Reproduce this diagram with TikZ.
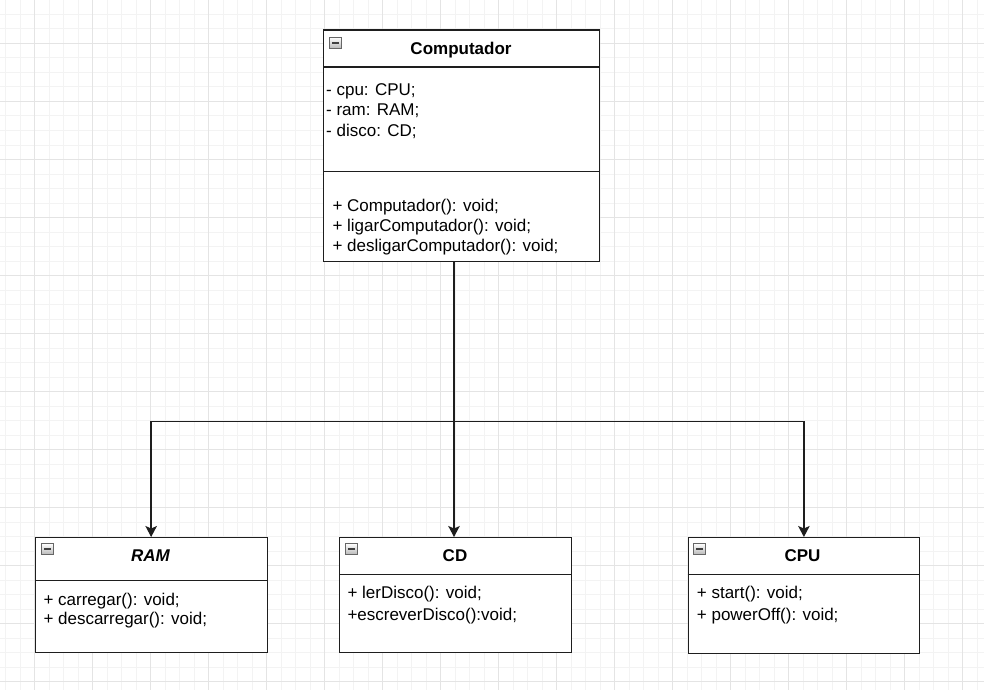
\documentclass[tikz,border=0pt]{standalone}
\usepackage{fontspec}
\setmainfont{Liberation Sans}
\usetikzlibrary{arrows.meta}
\definecolor{gridminor}{HTML}{F3F3F3}
\definecolor{gridmajor}{HTML}{E4E4E4}
\definecolor{edge}{HTML}{1E1E1E}
\definecolor{iconfill}{HTML}{B8B8B8}
\tikzset{
  umlbox/.style={draw=edge, line width=1.3pt, fill=white, rectangle, anchor=north west, inner sep=0pt},
  sepline/.style={draw=edge, line width=1.3pt},
  txt/.style={anchor=west, inner sep=0pt, text height=0.72em, text depth=0pt, font=\fontsize{17}{20}\selectfont},
  hdr/.style={anchor=center, inner sep=0pt, text height=0.72em, text depth=0pt, font=\fontsize{17}{20}\selectfont\bfseries},
  icon/.style={draw=gray!80!black, line width=0.6pt, top color=white, bottom color=iconfill, rectangle, minimum width=12pt, minimum height=11pt, inner sep=0pt,
    path picture={\draw[line width=1.6pt, black!75] ([xshift=2.5pt]path picture bounding box.west) -- ([xshift=-2.5pt]path picture bounding box.east);}},
  conn/.style={draw=edge, line width=1.4pt},
  arr/.style={conn, -{Stealth[length=11pt, width=11.5pt, inset=2.5pt]}}
}
\begin{document}
\begin{tikzpicture}[x=1pt, y=-1pt]
\useasboundingbox (0,0) rectangle (984,690);
\fill[white] (0,0) rectangle (984,690);
% grid
\foreach \i in {0,...,67} {
  \draw[gridminor, line width=0.6pt] ({5.3+14.5*\i},0) -- ({5.3+14.5*\i},690);
}
\foreach \i in {0,...,47} {
  \draw[gridminor, line width=0.6pt] (0,{14.3+14.5*\i}) -- (984,{14.3+14.5*\i});
}
\foreach \i in {0,...,16} {
  \draw[gridmajor, line width=0.7pt] ({34.3+58*\i},0) -- ({34.3+58*\i},690);
}
\foreach \i in {0,...,11} {
  \draw[gridmajor, line width=0.7pt] (0,{43.3+58*\i}) -- (984,{43.3+58*\i});
}

% Computador
\node[umlbox, minimum width=276pt, minimum height=231.5pt] (comp) at (323,29.5) {};
\draw[sepline] (comp.west |- 0,67) -- (comp.east |- 0,67);
\draw[sepline] (comp.west |- 0,171.7) -- (comp.east |- 0,171.7);
\node[icon] (compicon) at (335.5,42.8) {};
\node[hdr] (comptitle) at (461,50.5) {Computador};
\node[txt] (f1) at (326,91.5) {- cpu: CPU;};
\node[txt] (f2) at (326,111.5) {- ram: RAM;};
\node[txt] (f3) at (326,133) {- disco: CD;};
\node[txt] (m1) at (332.3,207.5) {+ Computador(): void;};
\node[txt] (m2) at (332.3,227.5) {+ ligarComputador(): void;};
\node[txt] (m3) at (332.3,247.5) {+ desligarComputador(): void;};

% RAM
\node[umlbox, minimum width=232pt, minimum height=115pt] (ram) at (34.5,537) {};
\draw[sepline] (ram.west |- 0,580.7) -- (ram.east |- 0,580.7);
\node[icon] (ramicon) at (47.7,549) {};
\node[hdr, font=\fontsize{17}{20}\selectfont\bfseries\itshape] (ramtitle) at (150.5,558.3) {RAM};
\node[txt] (r1) at (43.3,601.7) {+ carregar(): void;};
\node[txt] (r2) at (43.3,620.8) {+ descarregar(): void;};

% CD
\node[umlbox, minimum width=232pt, minimum height=115pt] (cd) at (339,537) {};
\draw[sepline] (cd.west |- 0,574.3) -- (cd.east |- 0,574.3);
\node[icon] (cdicon) at (351.3,549) {};
\node[hdr] (cdtitle) at (455,557.7) {CD};
\node[txt] (c1) at (347.3,595) {+ lerDisco(): void;};
\node[txt] (c2) at (347.3,616.5) {+escreverDisco():void;};

% CPU
\node[umlbox, minimum width=231.5pt, minimum height=115.5pt] (cpu) at (687.5,537) {};
\draw[sepline] (cpu.west |- 0,574.3) -- (cpu.east |- 0,574.3);
\node[icon] (cpuicon) at (699.5,549) {};
\node[hdr] (cputitle) at (802.5,557.7) {CPU};
\node[txt] (p1) at (696.7,595) {+ start(): void;};
\node[txt] (p2) at (696.7,616.5) {+ powerOff(): void;};

% connectors
\coordinate (j) at (454,421.5);
\draw[conn] (j |- comp.south) -- (j);
\draw[arr] (j) -| (ram.north);
\draw[arr] (j) -- (j |- cd.north);
\draw[arr] (j) -| (cpu.north);
\end{tikzpicture}
\end{document}
